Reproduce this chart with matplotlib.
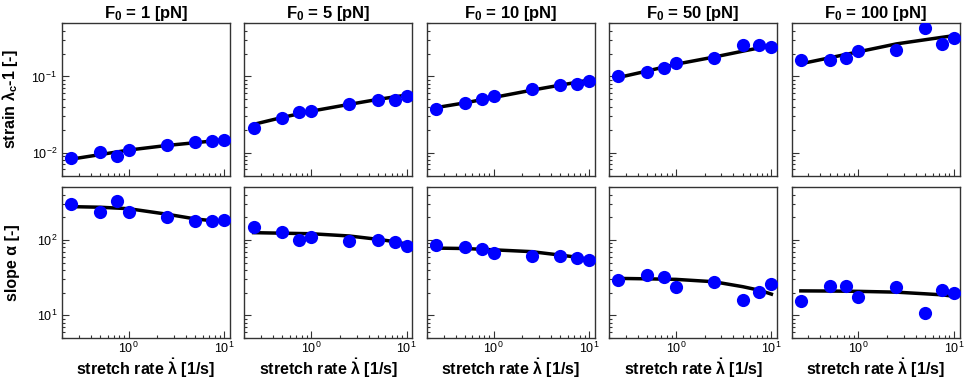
import matplotlib
matplotlib.use('Agg')
import matplotlib.pyplot as plt

plt.rcParams['font.family'] = ['Liberation Sans', 'DejaVu Sans']
plt.rcParams['mathtext.fontset'] = 'custom'
plt.rcParams['mathtext.rm'] = 'Liberation Sans'
plt.rcParams['mathtext.bf'] = 'Liberation Sans:bold'
plt.rcParams['mathtext.it'] = 'Liberation Sans:italic'

# stretch rates of the measurements [1/s]
rate = [0.25, 0.5, 0.75, 1, 2.5, 5, 7.5, 10]
fit_rate = [0.25, 0.5, 1, 2.5, 5, 7.5, 10]

forces = [1, 5, 10, 50, 100]

# strain lambda_c - 1, one list per F0
strain_f1 = [0.0084, 0.0101, 0.0090, 0.0107, 0.0126, 0.0139, 0.0144, 0.0145]
strain_f5 = [0.0213, 0.0284, 0.0337, 0.0351, 0.0433, 0.0484, 0.0495, 0.0559]
strain_f10 = [0.0378, 0.0443, 0.0504, 0.0547, 0.069, 0.0762, 0.0785, 0.0868]
strain_f50 = [0.100, 0.115, 0.131, 0.149, 0.176, 0.26, 0.257, 0.242]
strain_f100 = [0.166, 0.164, 0.174, 0.215, 0.224, 0.43, 0.271, 0.321]

strain_fit_f1 = [0.0082, 0.0094, 0.0108, 0.0124, 0.0135, 0.0142, 0.0148]
strain_fit_f5 = [0.0235, 0.029, 0.035, 0.043, 0.050, 0.054, 0.057]
strain_fit_f10 = [0.039, 0.045, 0.053, 0.066, 0.077, 0.084, 0.090]
strain_fit_f50 = [0.097, 0.118, 0.145, 0.180, 0.215, 0.238, 0.250]
strain_fit_f100 = [0.147, 0.176, 0.211, 0.268, 0.304, 0.327, 0.344]

# slope alpha, one list per F0
slope_f1 = [300, 234, 328, 236, 203, 180, 179, 184]
slope_f5 = [147, 128, 100, 111, 98, 100, 94, 84]
slope_f10 = [85, 81, 77, 66.5, 61, 61, 58, 55]
slope_f50 = [29.7, 34, 31.8, 24, 27.9, 16.1, 20.7, 25.8]
slope_f100 = [15.7, 24.3, 24.3, 17.7, 24, 10.8, 21.8, 19.7]

slope_fit_f1 = [277, 272, 260, 220, 190, 180, 175]
slope_fit_f5 = [125, 123, 121, 113, 102, 95, 88]
slope_fit_f10 = [78, 77, 74, 70, 63, 59, 55]
slope_fit_f50 = [30.9, 30.5, 30.0, 27.9, 24.0, 21.5, 19.1]
slope_fit_f100 = [21.1, 21.0, 20.8, 20.3, 19.3, 18.7, 17.9]

strain_pts = [strain_f1, strain_f5, strain_f10, strain_f50, strain_f100]
strain_fit = [strain_fit_f1, strain_fit_f5, strain_fit_f10, strain_fit_f50, strain_fit_f100]
slope_pts = [slope_f1, slope_f5, slope_f10, slope_f50, slope_f100]
slope_fit = [slope_fit_f1, slope_fit_f5, slope_fit_f10, slope_fit_f50, slope_fit_f100]

W, H = 964, 381
fig = plt.figure(figsize=(W / 100, H / 100), dpi=100)

left0, step, width = 62, 182.4, 168
rows = [(23.3, 175.5), (187.3, 338)]


def style(ax):
    ax.set_xscale('log')
    ax.set_yscale('log')
    ax.set_xlim(0.2, 11.5)
    for s in ax.spines.values():
        s.set_color('#333333')
        s.set_linewidth(1.0)
    ax.tick_params(which='both', direction='in', top=False, right=False,
                   labelsize=9, color='#333333')
    ax.tick_params(which='major', length=5, width=0.8)
    ax.tick_params(which='minor', length=2.5, width=0.8)


for i, f0 in enumerate(forces):
    x0 = left0 + i * step
    for r, (yt, yb) in enumerate(rows):
        ax = fig.add_axes([x0 / W, 1 - yb / H, width / W, (yb - yt) / H])
        style(ax)
        if r == 0:
            ax.plot(fit_rate, strain_fit[i], color='black', lw=2.5, zorder=2)
            ax.plot(rate, strain_pts[i], 'o', color='#0000ff', ms=9.5, mec='none', zorder=3)
            ax.set_ylim(0.005, 0.5)
            ax.set_title(r'F$_\mathbf{0}$ = %d [pN]' % f0, fontsize=12,
                         fontweight='bold', pad=4)
            ax.tick_params(labelbottom=False)
            if i == 0:
                ax.set_ylabel(r'strain λ$_\mathbf{c}$-1 [-]', fontsize=11.5,
                              fontweight='bold')
        else:
            ax.plot(fit_rate, slope_fit[i], color='black', lw=2.5, zorder=2)
            ax.plot(rate, slope_pts[i], 'o', color='#0000ff', ms=9.5, mec='none', zorder=3)
            ax.set_ylim(5, 500)
            ax.tick_params(axis='x', pad=2)
            ax.set_xlabel(r'stretch rate $\mathbf{\dot{\lambda}}$ [1/s]', fontsize=11.5,
                          fontweight='bold', labelpad=0)
            if i == 0:
                ax.set_ylabel('slope α [-]', fontsize=11.5, fontweight='bold')
        if i == 0:
            ax.yaxis.set_label_coords(-0.25, 0.5)
        else:
            ax.tick_params(labelleft=False)

fig.savefig('out.png', dpi=100)
